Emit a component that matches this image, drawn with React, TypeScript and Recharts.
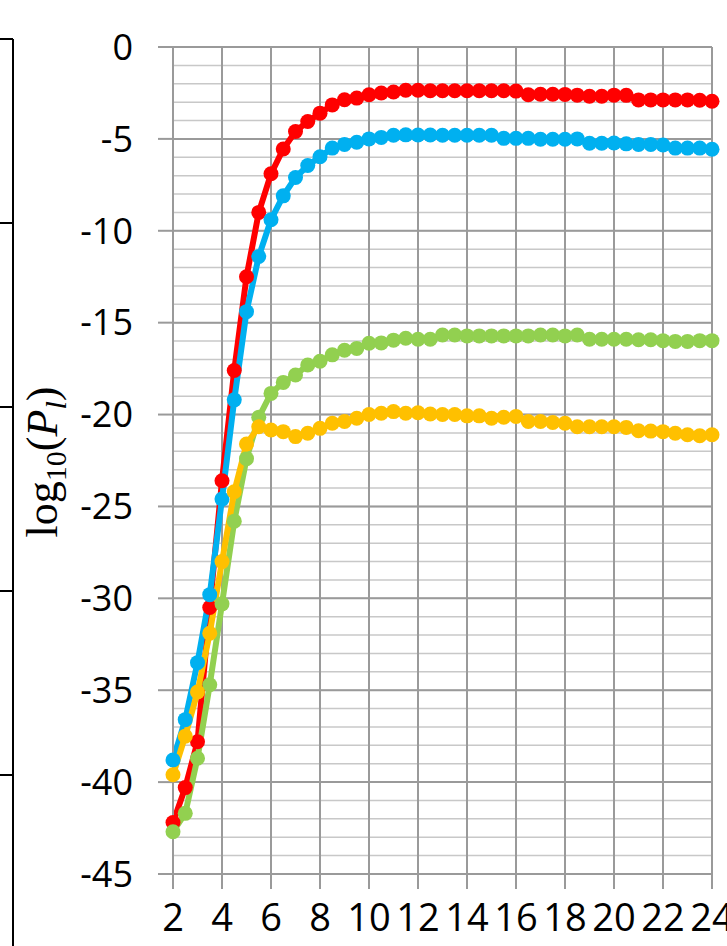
import { LineChart, Line, XAxis, YAxis, CartesianGrid } from 'recharts';

const xValues = [
  2, 2.5, 3, 3.5, 4, 4.5, 5, 5.5, 6, 6.5, 7, 7.5, 8, 8.5, 9, 9.5, 10, 10.5, 11, 11.5, 12, 12.5, 13,
  13.5, 14, 14.5, 15, 15.5, 16, 16.5, 17, 17.5, 18, 18.5, 19, 19.5, 20, 20.5, 21, 21.5, 22, 22.5, 23,
  23.5, 24,
];

const redValues = [
  -42.2, -40.3, -37.8, -30.5, -23.6, -17.6, -12.5, -9.0, -6.9, -5.55,
  -4.6, -4.05, -3.6, -3.15, -2.87, -2.78, -2.6, -2.5, -2.45, -2.35,
  -2.35, -2.38, -2.38, -2.38, -2.38, -2.38, -2.38, -2.38, -2.4, -2.6,
  -2.57, -2.57, -2.58, -2.62, -2.68, -2.68, -2.62, -2.63, -2.88, -2.88,
  -2.88, -2.88, -2.88, -2.9, -2.95,
];

const blueValues = [
  -38.8, -36.6, -33.5, -29.8, -24.6, -19.2, -14.4, -11.4, -9.4, -8.1,
  -7.1, -6.45, -5.97, -5.5, -5.3, -5.18, -5.0, -4.92, -4.8, -4.78,
  -4.79, -4.79, -4.8, -4.8, -4.8, -4.8, -4.8, -4.97, -4.97, -4.97,
  -5.02, -5.02, -5.02, -5.0, -5.24, -5.24, -5.22, -5.27, -5.3, -5.3,
  -5.33, -5.5, -5.5, -5.5, -5.56,
];

const greenValues = [
  -42.7, -41.7, -38.7, -34.7, -30.3, -25.8, -22.4, -20.15, -18.85, -18.25,
  -17.85, -17.3, -17.1, -16.75, -16.5, -16.4, -16.12, -16.1, -15.95, -15.85,
  -15.9, -15.9, -15.67, -15.67, -15.72, -15.72, -15.72, -15.72, -15.72, -15.72,
  -15.67, -15.67, -15.72, -15.67, -15.9, -15.9, -15.9, -15.9, -15.93, -15.93,
  -15.98, -16.02, -16.02, -15.98, -15.98,
];

const yellowValues = [
  -39.6, -37.5, -35.1, -31.9, -28.0, -24.2, -21.6, -20.66, -20.84, -20.93,
  -21.2, -21.02, -20.75, -20.47, -20.38, -20.2, -20.0, -19.93, -19.84, -19.93,
  -19.9, -19.97, -20.0, -20.0, -20.07, -20.07, -20.2, -20.15, -20.1, -20.38,
  -20.38, -20.43, -20.47, -20.66, -20.66, -20.66, -20.66, -20.7, -20.88, -20.9,
  -20.93, -21.02, -21.1, -21.15, -21.1,
];

const xTicks = [2, 4, 6, 8, 10, 12, 14, 16, 18, 20, 22, 24];
const yTicks = [0, -5, -10, -15, -20, -25, -30, -35, -40, -45];
const yMinorTicks = [
  0, -1, -2, -3, -4, -5, -6, -7, -8, -9, -10, -11, -12, -13, -14, -15, -16, -17, -18, -19, -20,
  -21, -22, -23, -24, -25, -26, -27, -28, -29, -30, -31, -32, -33, -34, -35, -36, -37, -38, -39,
  -40, -41, -42, -43, -44, -45,
];

// neighbouring panel's frame, cut off at the left edge
const frameTicksY = [39, 223, 407, 591, 775];

const data = xValues.map((x, i) => ({
  x,
  red: redValues[i],
  blue: blueValues[i],
  green: greenValues[i],
  yellow: yellowValues[i],
}));

const series = [
  { key: 'red', color: '#ff0000' },
  { key: 'blue', color: '#00b0f0' },
  { key: 'green', color: '#92d050' },
  { key: 'yellow', color: '#ffc000' },
];

const gridMajor = '#9a9a9a';
const gridMinor = '#c8c8c8';
const yTickFont = { fontFamily: 'Open Sans', fontSize: 36, fill: '#000' };
const xTickFont = { fontFamily: 'Open Sans', fontSize: 38, fill: '#000' };

export default function App() {
  return (
    <div style={{ position: 'absolute', left: 0, top: 0, width: 727, height: 946, background: '#fff' }}>
      <LineChart width={727} height={946} data={data} margin={{ top: 47, right: 15, bottom: 12, left: 113 }}>
        <CartesianGrid horizontalValues={yMinorTicks} vertical={false} stroke={gridMinor} strokeWidth={1.5} />
        <CartesianGrid horizontalValues={yTicks} verticalValues={xTicks} stroke={gridMajor} strokeWidth={2} />
        <XAxis
          dataKey="x"
          type="number"
          domain={[2, 24]}
          ticks={xTicks}
          interval={0}
          height={60}
          tickSize={15}
          tickMargin={15}
          axisLine={{ stroke: gridMajor, strokeWidth: 2 }}
          tickLine={{ stroke: gridMajor, strokeWidth: 2 }}
          tick={xTickFont}
        />
        <YAxis
          type="number"
          domain={[-45, 0]}
          ticks={yTicks}
          interval={0}
          width={60}
          tickSize={15}
          tickMargin={25}
          axisLine={{ stroke: gridMajor, strokeWidth: 2 }}
          tickLine={{ stroke: gridMajor, strokeWidth: 2 }}
          tick={yTickFont}
        />
        {series.map((s) => (
          <Line
            key={s.key}
            type="linear"
            dataKey={s.key}
            stroke={s.color}
            strokeWidth={6}
            dot={{ r: 7.5, fill: s.color, stroke: 'none' }}
            isAnimationActive={false}
          />
        ))}
      </LineChart>
      <svg
        width={727}
        height={946}
        style={{ position: 'absolute', left: 0, top: 0, pointerEvents: 'none' }}
      >
        <line x1={13} y1={39} x2={13} y2={946} stroke="#000" strokeWidth={2} />
        {frameTicksY.map((y) => (
          <line key={y} x1={0} y1={y} x2={13} y2={y} stroke="#000" strokeWidth={2} />
        ))}
        <text
          transform="translate(57,462) rotate(-90)"
          textAnchor="middle"
          fontFamily="Liberation Serif"
          fontSize={44}
          fill="#000"
        >
          log
          <tspan fontSize={30} dy={9}>10</tspan>
          <tspan dy={-9}>(</tspan>
          <tspan fontStyle="italic">P</tspan>
          <tspan fontStyle="italic" fontSize={30} dy={9}>l</tspan>
          <tspan dy={-9}>)</tspan>
        </text>
      </svg>
    </div>
  );
}
